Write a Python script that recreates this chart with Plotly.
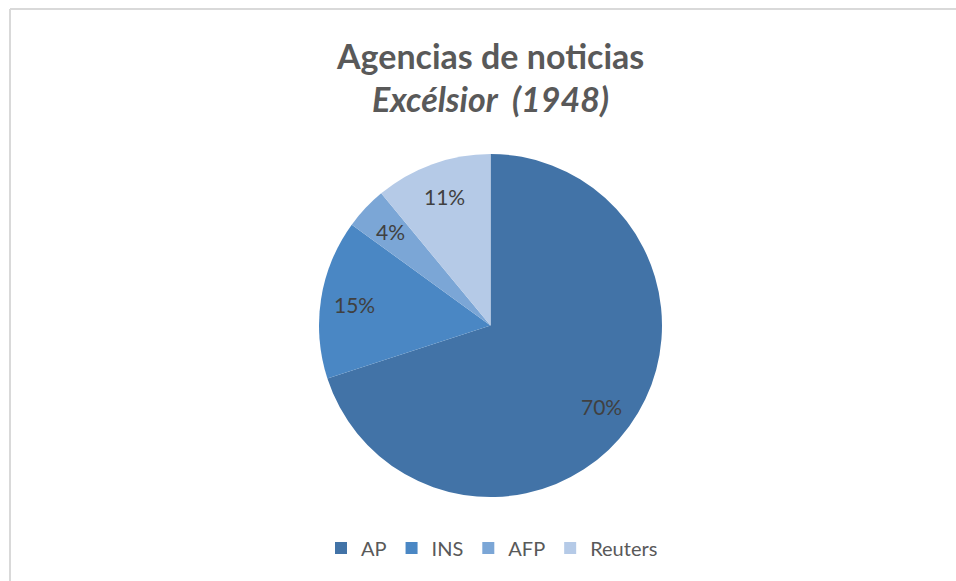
import math
import plotly.graph_objects as go

agencies = ["AP", "INS", "AFP", "Reuters"]
shares = [70, 15, 4, 11]
colors = ["#4273a7", "#4a87c4", "#7ba6d6", "#b5cae7"]
title_line1 = "Agencias de noticias"
title_line2 = "Excélsior  (1948)"

W, H = 956, 581
FONT = "Lato, sans-serif"

def px(x):
    return x / W

def py(y):
    return 1 - y / H

# pie geometry (pixels)
left, right, top, bottom = 319, 662, 154, 497
cx, cy = (left + right) / 2, (top + bottom) / 2
R = (right - left) / 2

fig = go.Figure()
fig.add_trace(go.Pie(
    labels=agencies,
    values=shares,
    sort=False,
    direction="clockwise",
    rotation=0,
    marker=dict(colors=colors, line=dict(width=0)),
    textinfo="none",
    domain=dict(x=[px(left), px(right)], y=[py(bottom), py(top)]),
    hoverinfo="label+percent",
))

# data labels placed at 80% of the radius, at each slice's mid angle
total = sum(shares)
annotations = []
cum = 0
for v in shares:
    theta = 2 * math.pi * (cum + v / 2) / total
    cum += v
    r = 0.80 * R
    lx = cx + r * math.sin(theta)
    ly = cy - r * math.cos(theta)
    annotations.append(dict(
        text=f"{round(100 * v / total)}%", x=px(lx), y=py(ly), xref="paper", yref="paper",
        showarrow=False, xanchor="center", yanchor="middle",
        font=dict(family=FONT, size=21, color="#404040")))

annotations += [
    dict(text="<b>" + title_line1 + "</b>", x=px(490), y=py(55), xref="paper", yref="paper",
         showarrow=False, xanchor="center", yanchor="middle",
         font=dict(family=FONT, size=34, color="#595959")),
    dict(text="<b><i>" + title_line2 + "</i></b>", x=px(490), y=py(99), xref="paper", yref="paper",
         showarrow=False, xanchor="center", yanchor="middle",
         font=dict(family=FONT, size=34, color="#595959")),
]

fig.update_layout(
    width=W, height=H,
    margin=dict(l=0, r=0, t=0, b=0),
    paper_bgcolor="white",
    plot_bgcolor="white",
    showlegend=True,
    legend=dict(
        orientation="h",
        x=px(492), xanchor="center",
        y=py(548), yanchor="middle",
        font=dict(family=FONT, size=20, color="#595959"),
        itemwidth=30,
        traceorder="normal",
    ),
    annotations=annotations,
    shapes=[
        dict(type="line", xref="paper", yref="paper", x0=px(10), x1=1.01, y0=py(9), y1=py(9),
             line=dict(color="#d9d9d9", width=2)),
        dict(type="line", xref="paper", yref="paper", x0=px(10), x1=px(10), y0=py(9), y1=-0.01,
             line=dict(color="#d9d9d9", width=2)),
    ],
)

fig.write_html("out.html", config={"displayModeBar": False},
               post_script="document.body.style.margin='0px';")
